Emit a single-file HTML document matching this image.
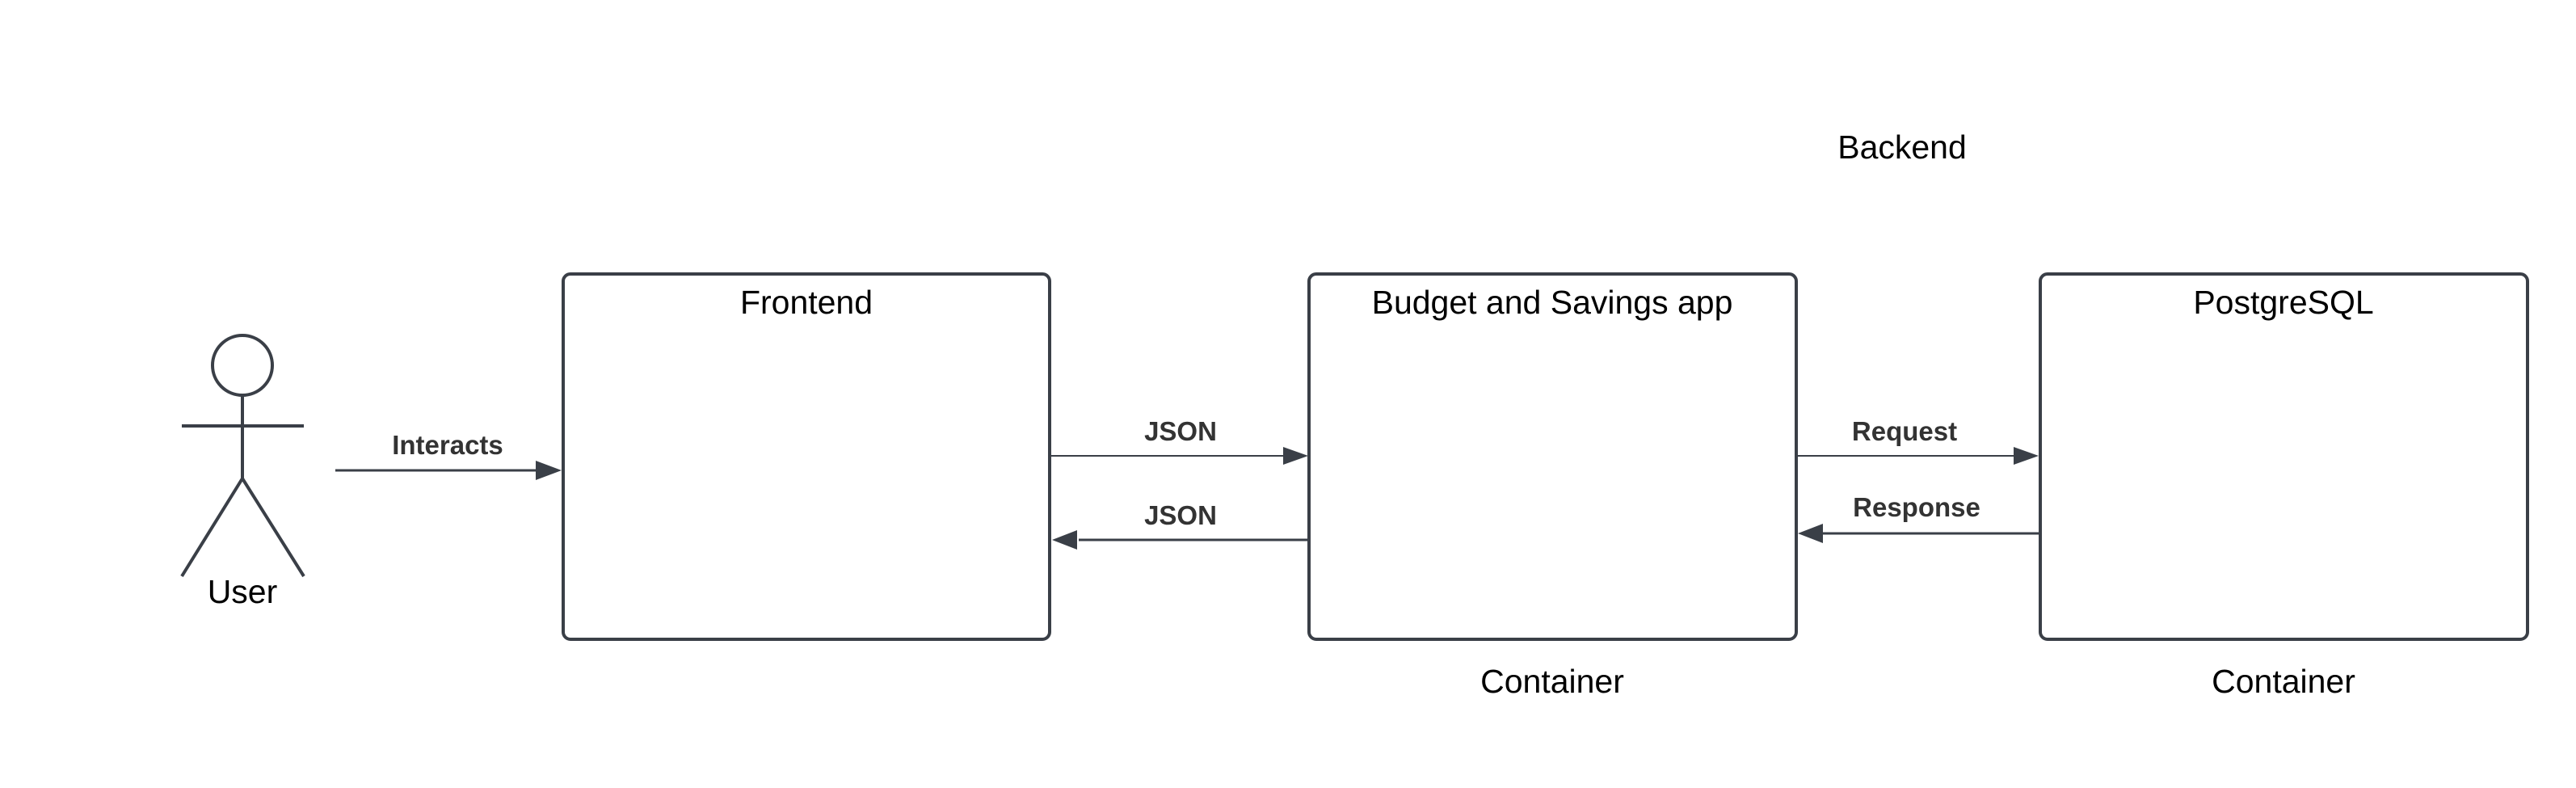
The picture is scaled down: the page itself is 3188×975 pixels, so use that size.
<!DOCTYPE html>
<html><head><meta charset="utf-8"><style>
html,body{margin:0;padding:0;background:#fff;}
svg{display:block;}
text{font-family:"Liberation Sans",sans-serif;fill:#000;}
.b{font-weight:bold;fill:#333;font-size:33px;}
</style></head><body>
<svg width="3188" height="975" viewBox="0 0 3188 975" xmlns="http://www.w3.org/2000/svg">
<defs>
<marker id="ah" markerWidth="10" markerHeight="10" refX="10" refY="5" orient="auto" markerUnits="userSpaceOnUse" viewBox="0 0 10 10" >
<path d="M0,0 L10,5 L0,10 z" fill="#3a3f47"/>
</marker>
</defs>
<g stroke="#3a3f47" fill="none" stroke-width="4">
<rect x="697" y="339" width="602" height="452" rx="9"/>
<rect x="1620" y="339" width="603" height="452" rx="9"/>
<rect x="2525" y="339" width="603" height="452" rx="9"/>
<circle cx="300" cy="452" r="37"/>
<line x1="300" y1="489" x2="300" y2="592"/>
<line x1="225" y1="527" x2="376" y2="527"/>
<polyline points="225,713 300,592 376,713"/>
</g>
<g fill="#3a3f47">
<line x1="415" y1="582" x2="665" y2="582" stroke="#3a3f47" stroke-width="3"/>
<path d="M663,570 L695,582 L663,594 z"/>
<line x1="1300" y1="564" x2="1590" y2="564" stroke="#3a3f47" stroke-width="2"/>
<path d="M1588,553 L1619,564 L1588,575 z"/>
<line x1="1335" y1="668" x2="1620" y2="668" stroke="#3a3f47" stroke-width="3"/>
<path d="M1333,656 L1302,668 L1333,680 z"/>
<line x1="2224" y1="564" x2="2494" y2="564" stroke="#3a3f47" stroke-width="2"/>
<path d="M2492,553 L2523,564 L2492,575 z"/>
<line x1="2256" y1="660" x2="2525" y2="660" stroke="#3a3f47" stroke-width="3"/>
<path d="M2256,648 L2225,660 L2256,672 z"/>
</g>
<g text-anchor="middle" font-size="41">
<text x="300" y="746">User</text>
<text x="998" y="388">Frontend</text>
<text x="1921" y="388">Budget and Savings app</text>
<text x="2826" y="388">PostgreSQL</text>
<text x="2354" y="196">Backend</text>
<text x="1921" y="857">Container</text>
<text x="2826" y="857">Container</text>
</g>
<g text-anchor="middle">
<text class="b" x="554" y="562">Interacts</text>
<text class="b" x="1461" y="545">JSON</text>
<text class="b" x="1461" y="649">JSON</text>
<text class="b" x="2357" y="545">Request</text>
<text class="b" x="2372" y="639">Response</text>
</g>
</svg>
</body></html>
